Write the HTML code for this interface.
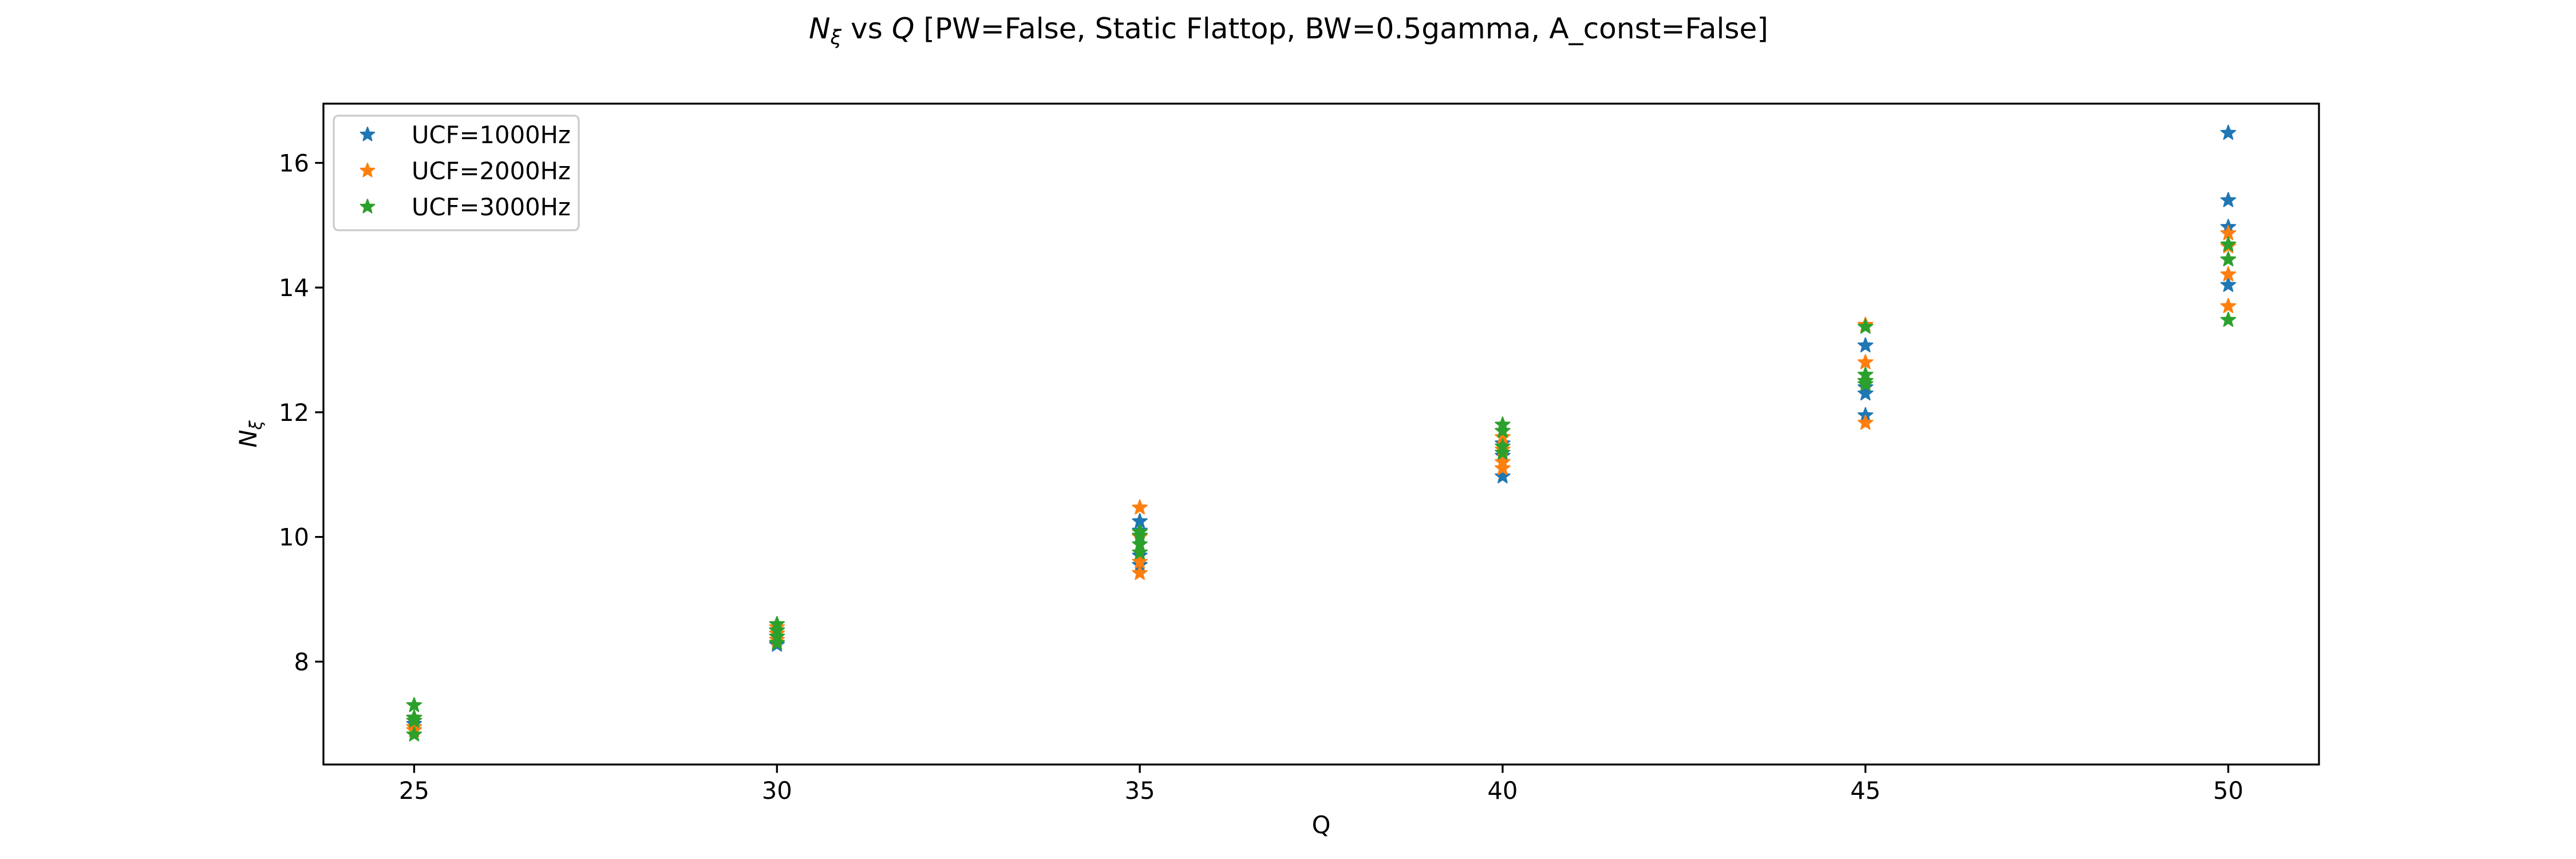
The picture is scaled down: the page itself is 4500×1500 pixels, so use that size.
<!DOCTYPE html>
<html><head><meta charset="utf-8"><style>
html,body{margin:0;padding:0;background:#fff;}
svg{display:block;font-family:"DejaVu Sans","Liberation Sans",sans-serif;}
</style></head><body>
<svg id="chart" width="4500" height="1500" viewBox="0 0 4500 1500" xmlns="http://www.w3.org/2000/svg">
<rect width="4500" height="1500" fill="#fff"/>
<text x="2251" y="67" font-size="50" text-anchor="middle" textLength="1676" lengthAdjust="spacingAndGlyphs"><tspan font-style="italic">N</tspan><tspan font-style="italic" font-size="35" dy="10">ξ</tspan><tspan dy="-10"> vs </tspan><tspan font-style="italic">Q</tspan> [PW=False, Static Flattop, BW=0.5gamma, A_const=False]</text>
<g id="marks"></g>
<g id="axes"></g>
<text x="2308" y="1455" font-size="41.7" text-anchor="middle">Q</text>
<text transform="translate(448,758) rotate(-90)" font-size="41.7" text-anchor="middle"><tspan font-style="italic">N</tspan><tspan font-style="italic" font-size="29" dy="9">ξ</tspan></text>
<g id="legend"></g>
</svg>
<script>
const categories = [25, 30, 35, 40, 45, 50];
const seriesNames = ["UCF=1000Hz", "UCF=2000Hz", "UCF=3000Hz"];
const seriesColors = ["#1f77b4", "#ff7f0e", "#2ca02c"];
const series1000 = [[7.0,7.1,6.95,6.9],[8.27,8.4,8.5,8.45],[10.25,9.55,9.7,10.1],[10.97,11.1,11.3,11.5],[13.07,12.3,11.95,12.4],[16.48,15.4,14.97,14.04]];
const series2000 = [[6.9,7.05,6.95,7.1],[8.35,8.45,8.55,8.3],[10.47,9.42,9.6,10.0],[11.1,11.6,11.4,11.2],[13.4,12.8,11.83,12.5],[14.87,14.21,13.7,14.66]];
const series3000 = [[7.3,6.83,7.1,7.05],[8.6,8.3,8.5,8.4],[10.08,9.88,9.75,10.02],[11.8,11.7,11.35,11.45],[13.37,12.6,12.45,12.5],[14.69,14.45,13.48,14.45]];
const xTicks = [25, 30, 35, 40, 45, 50];
const yTicks = [8, 10, 12, 14, 16];

const NS = "http://www.w3.org/2000/svg";
const L = 565, R = 4051, T = 181, B = 1335;
const xMin = 23.75, xMax = 51.25, yMin = 6.35, yMax = 16.95;
function xs(v){ return L + (v - xMin) / (xMax - xMin) * (R - L); }
function ys(v){ return B - (v - yMin) / (yMax - yMin) * (B - T); }
function star(cx, cy, r){
  let p = [];
  for (let i = 0; i < 10; i++){
    const rr = i % 2 === 0 ? r : r * 0.42;
    const a = -Math.PI / 2 + i * Math.PI / 5;
    p.push((cx + rr * Math.cos(a)).toFixed(1) + "," + (cy + rr * Math.sin(a)).toFixed(1));
  }
  return p.join(" ");
}
function mk(tag, attrs, parent){
  const e = document.createElementNS(NS, tag);
  for (const k in attrs) e.setAttribute(k, attrs[k]);
  parent.appendChild(e);
  return e;
}
const marks = document.getElementById("marks");
[series1000, series2000, series3000].forEach((s, si) => {
  s.forEach((vals, ci) => {
    vals.forEach(v => {
      const e = mk("polygon", {points: star(xs(categories[ci]), ys(v), 13.5), fill: seriesColors[si], stroke: seriesColors[si], "stroke-width": 2, "stroke-linejoin": "round"}, marks);
      
      
    });
  });
});
const axes = document.getElementById("axes");
const frame = mk("rect", {x: L, y: T, width: R - L, height: B - T, fill: "none", stroke: "#000", "stroke-width": 3.3}, axes);


xTicks.forEach(t => {
  const x = xs(t);
  const tk = mk("line", {x1: x, x2: x, y1: B, y2: B + 14.6, stroke: "#000", "stroke-width": 3.3}, axes);
  
  
  const lb = mk("text", {x: x, y: B + 60, "font-size": 41.7, "text-anchor": "middle"}, axes);
  lb.textContent = t;
  
  
});
yTicks.forEach(t => {
  const y = ys(t);
  const tk = mk("line", {x1: L - 14.6, x2: L, y1: y, y2: y, stroke: "#000", "stroke-width": 3.3}, axes);
  
  
  const lb = mk("text", {x: L - 25, y: y + 15, "font-size": 41.7, "text-anchor": "end"}, axes);
  lb.textContent = t;
  
  
});
const legend = document.getElementById("legend");
const box = mk("rect", {x: 583, y: 202, width: 428, height: 200, rx: 8, fill: "#fff", "fill-opacity": 0.8, stroke: "#ccc", "stroke-width": 3.3}, legend);


seriesNames.forEach((n, i) => {
  const cy = 235 + i * 63;
  const m = mk("polygon", {points: star(642, cy, 13), fill: seriesColors[i], stroke: seriesColors[i], "stroke-width": 2, "stroke-linejoin": "round"}, legend);
  
  
  const t = mk("text", {x: 719, y: cy + 15, "font-size": 41.7}, legend);
  t.textContent = n;
  
  
});
</script>
</body></html>
